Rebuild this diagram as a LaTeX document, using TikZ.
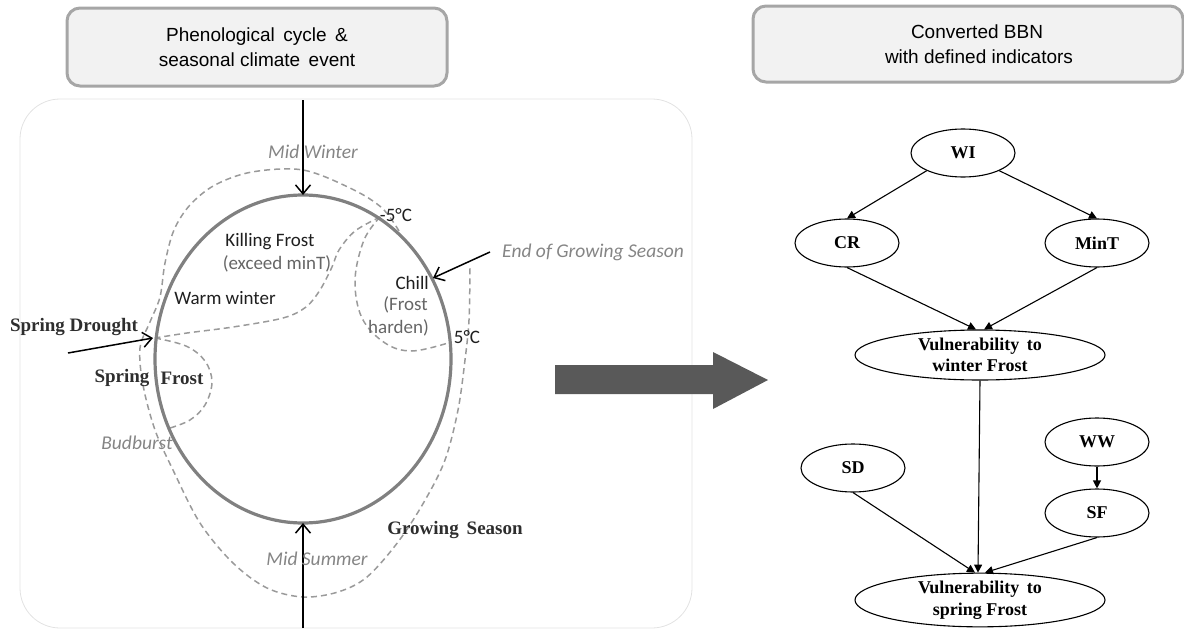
\documentclass[tikz,border=0pt]{standalone}
\usepackage{fontspec}
\setmainfont{Liberation Serif}
\newfontfamily\titlefont{Liberation Sans}
\newfontfamily\labfont{Carlito}
\usetikzlibrary{shapes.geometric,arrows.meta}
\definecolor{boxfill}{HTML}{F2F2F2}
\definecolor{boxline}{HTML}{A6A6A6}
\definecolor{panelline}{HTML}{E2E2E2}
\definecolor{cyclegray}{HTML}{808080}
\definecolor{dashgray}{HTML}{9A9A9A}
\definecolor{italgray}{HTML}{858585}
\definecolor{subgray}{HTML}{666666}
\definecolor{serifgray}{HTML}{2E2E2E}
\definecolor{bigarrow}{HTML}{595959}
\begin{document}
\begin{tikzpicture}[x=1pt,y=-1pt,
  titlebox/.style={draw=boxline, fill=boxfill, line width=3pt, rounded corners=13pt, align=center,
    font=\titlefont\fontsize{19}{25.5}\selectfont, text=black},
  bbn/.style={ellipse, draw=black, line width=1.1pt, inner sep=0pt, align=center,
    minimum width=104pt, minimum height=48pt, font=\bfseries\fontsize{18}{21.5}\selectfont},
  bbnbig/.style={bbn, minimum width=250pt, minimum height=50pt},
  bbnedge/.style={draw=black, line width=1.1pt, -{Triangle[length=8pt,width=8pt]}},
  evarrow/.style={draw=black, line width=1.5pt, -{Straight Barb[length=9pt,width=15pt,line width=1.5pt]}},
  dashline/.style={draw=dashgray, line width=1.5pt, dash pattern=on 6pt off 4pt},
  italab/.style={font=\labfont\itshape\fontsize{19.5}{21}\selectfont, text=italgray, inner sep=0pt},
  sanslab/.style={font=\labfont\fontsize{19}{21}\selectfont, text=black!88, inner sep=0pt},
  graylab/.style={font=\labfont\fontsize{19}{21}\selectfont, text=subgray, inner sep=0pt},
  seriflab/.style={font=\bfseries\fontsize{19}{21}\selectfont, text=serifgray, inner sep=0pt}
]
\useasboundingbox (0,0) rectangle (1184,632);

% title boxes
\node[titlebox, minimum width=380pt, minimum height=78pt] (t1) at (257,47)
  {Phenological\, cycle\, \&\\ seasonal climate\, event};
\node[titlebox, minimum width=430pt, minimum height=76pt] (t2) at (968,44)
  {\hspace*{18pt}Converted BBN\\ \hspace*{22pt}with defined indicators};

% left panel
\draw[draw=panelline, line width=0.8pt, rounded corners=40pt] (20,99) rectangle (692,628);

% dashed curves
\draw[dashline] plot[smooth, tension=0.55] coordinates {
  (399,231) (382,208) (352,189) (303,170) (252,172) (215,185) (190,205) (174,230)
  (165,263) (160,297) (150,322) (140,348) (143,385) (155,430) (173,470) (200,523)
  (233,563) (267,588) (303,597) (338,592) (367,577) (398,542) (424,502) (445,460)
  (458,410) (465,360) (469,320) (470,268)};
\draw[dashline] plot[smooth, tension=0.55] coordinates {
  (380,217) (355,231) (339,250) (332,267) (320,290) (306,307) (283,318) (233,327)
  (187,333) (155,338)};
\draw[dashline] plot[smooth, tension=0.6] coordinates {
  (380,217) (364,240) (355,280) (362,318) (385,343) (412,351) (448,343)};
\draw[dashline] plot[smooth, tension=0.6] coordinates {
  (155,338) (186,346) (205,361) (212,382) (205,405) (190,420) (170,428)};

% phenological cycle
\draw[draw=cyclegray, line width=3.2pt] (303,359) ellipse [x radius=148pt, y radius=164pt];

% event points
\coordinate (mwtop) at (303,100);
\coordinate (mwend) at (303,195);
\coordinate (mstop) at (303,628);
\coordinate (msend) at (303,523);
\coordinate (sdstart) at (68,353);
\coordinate (sdend) at (153,338);
\coordinate (egstart) at (490,252);
\coordinate (egend) at (433,278);
\draw[evarrow] (mwtop) -- (mwend);
\draw[evarrow] (mstop) -- (msend);
\draw[evarrow] (sdstart) -- (sdend);
\draw[evarrow] (egstart) -- (egend);

% labels
\node[italab] (lmw) at (313,152) {Mid Winter};
\node[italab] (lms) at (317,559) {Mid Summer};
\node[italab, anchor=west] (leg) at (502,252) {End of Growing Season};
\node[italab] (lbb) at (137,443) {Budburst};
\node[sanslab] (lkf) at (270,242) {Killing Frost};
\node[graylab] (lex) at (277,264) {(exceed minT)};
\node[sanslab] (lww) at (225,298) {Warm winter};
\node[sanslab] (lm5) at (396,215) {-5°C};
\node[sanslab] (lp5) at (467,337) {5°C};
\node[sanslab, anchor=east] (lch) at (429,283) {Chill};
\node[graylab, anchor=east] (lfr) at (428,305) {(Frost};
\node[graylab, anchor=east] (lha) at (429,328) {harden)};
\node[seriflab] (lsd) at (74,327) {Spring Drought};
\node[seriflab] (lsp) at (122,378) {Spring};
\node[seriflab] (lfo) at (182,378) {Frost};
\node[seriflab] (lgs) at (455,530) {Growing\, Season};

% big arrow
\fill[bigarrow] (555,365) -- (713,365) -- (713,352) -- (768,380) -- (713,409) -- (713,394) -- (555,394) -- cycle;

% BBN
\node[bbn] (WI) at (963,153) {WI};
\node[bbn] (CR) at (847,243) {CR};
\node[bbn] (MinT) at (1097,243) {MinT};
\node[bbnbig] (VwF) at (980,355) {Vulnerability\, to\\ winter Frost};
\node[bbn] (SD) at (853,468) {SD};
\node[bbn] (WW) at (1097,442) {WW};
\node[bbn] (SF) at (1097,513) {SF};
\node[bbnbig] (VsF) at (980,600) {Vulnerability\, to\\ spring Frost};

\draw[bbnedge] (WI.206) -- (CR.north);
\draw[bbnedge] (WI.-26) -- (MinT.north);
\draw[bbnedge] (CR.south) -- ([xshift=-4pt]VwF.north);
\draw[bbnedge] (MinT.south) -- ([xshift=4pt]VwF.north);
\draw[bbnedge] (VwF.south) -- ([xshift=-2pt]VsF.north);
\draw[bbnedge] (SD.south) -- ([xshift=-5pt]VsF.north);
\draw[bbnedge] (WW.south) -- (SF.north);
\draw[bbnedge] (SF.south) -- ([xshift=5pt]VsF.north);
\end{tikzpicture}
\end{document}
